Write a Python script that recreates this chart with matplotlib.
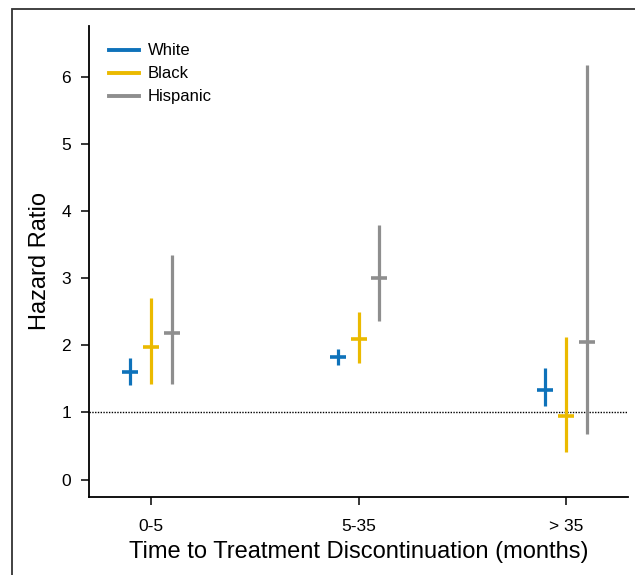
import matplotlib.pyplot as plt
from matplotlib.patches import Rectangle

plt.rcParams["font.family"] = ["Liberation Sans", "DejaVu Sans"]

# data
periods = ["0-5", "5-35", "> 35"]
groups = ["White", "Black", "Hispanic"]
colors = ["#0E72BA", "#EBBA00", "#8E8E8E"]

hr = {
    "White": [1.60, 1.83, 1.34],
    "Black": [1.97, 2.09, 0.94],
    "Hispanic": [2.19, 3.00, 2.05],
}
ci_low = {
    "White": [1.41, 1.71, 1.09],
    "Black": [1.43, 1.74, 0.41],
    "Hispanic": [1.43, 2.37, 0.68],
}
ci_high = {
    "White": [1.81, 1.95, 1.66],
    "Black": [2.71, 2.50, 2.12],
    "Hispanic": [3.35, 3.79, 6.18],
}
offsets = [-0.1, 0.0, 0.1]

fig = plt.figure(figsize=(6.35, 5.75), dpi=100)
ax = fig.add_axes([89 / 635, 1 - 497 / 575, (628 - 89) / 635, (497 - 26) / 575])

# outer frame (only left/top visible, rest is cut off)
fig.patches.append(Rectangle((12 / 635, -0.1), 1.2, 1.1 - 9 / 575,
                             transform=fig.transFigure, fill=False,
                             edgecolor="#333333", linewidth=1.3))

ax.axhline(1, color="black", linestyle=(0, (1, 1)), linewidth=1.0, zorder=1)

for g, c, off in zip(groups, colors, offsets):
    xs = [i + off for i in range(len(periods))]
    ax.vlines(xs, ci_low[g], ci_high[g], color=c, linewidth=2.3, zorder=2)
    ax.plot(xs, hr[g], linestyle="none", marker="_", markersize=12,
            markeredgewidth=2.6, color=c, zorder=3)
    ax.plot([], [], color=c, linewidth=2.8, label=g)

ax.set_xlim(-0.3, 2.3)
ax.set_ylim(-0.26, 6.76)
ax.set_xticks(range(len(periods)))
ax.set_xticklabels(periods)
ax.set_yticks(range(0, 7))

for s in ["top", "right"]:
    ax.spines[s].set_visible(False)
for s in ["left", "bottom"]:
    ax.spines[s].set_linewidth(1.3)
ax.tick_params(axis="both", direction="out", length=6, width=1.1,
               labelsize=12.5)
ax.tick_params(axis="y", pad=7)
ax.tick_params(axis="x", pad=10)

label_font = dict(family=["Liberation Sans Narrow", "Liberation Sans", "DejaVu Sans"], size=17)
ax.set_xlabel("Time to Treatment Discontinuation (months)", labelpad=5, **label_font)
ax.set_ylabel("Hazard Ratio", labelpad=7, **label_font)

ax.legend(loc="upper left", frameon=False, fontsize=12, handlelength=1.8,
          handletextpad=0.5, labelspacing=0.48, bbox_to_anchor=(0.01, 0.995))

fig.savefig("out.png", dpi=100)
